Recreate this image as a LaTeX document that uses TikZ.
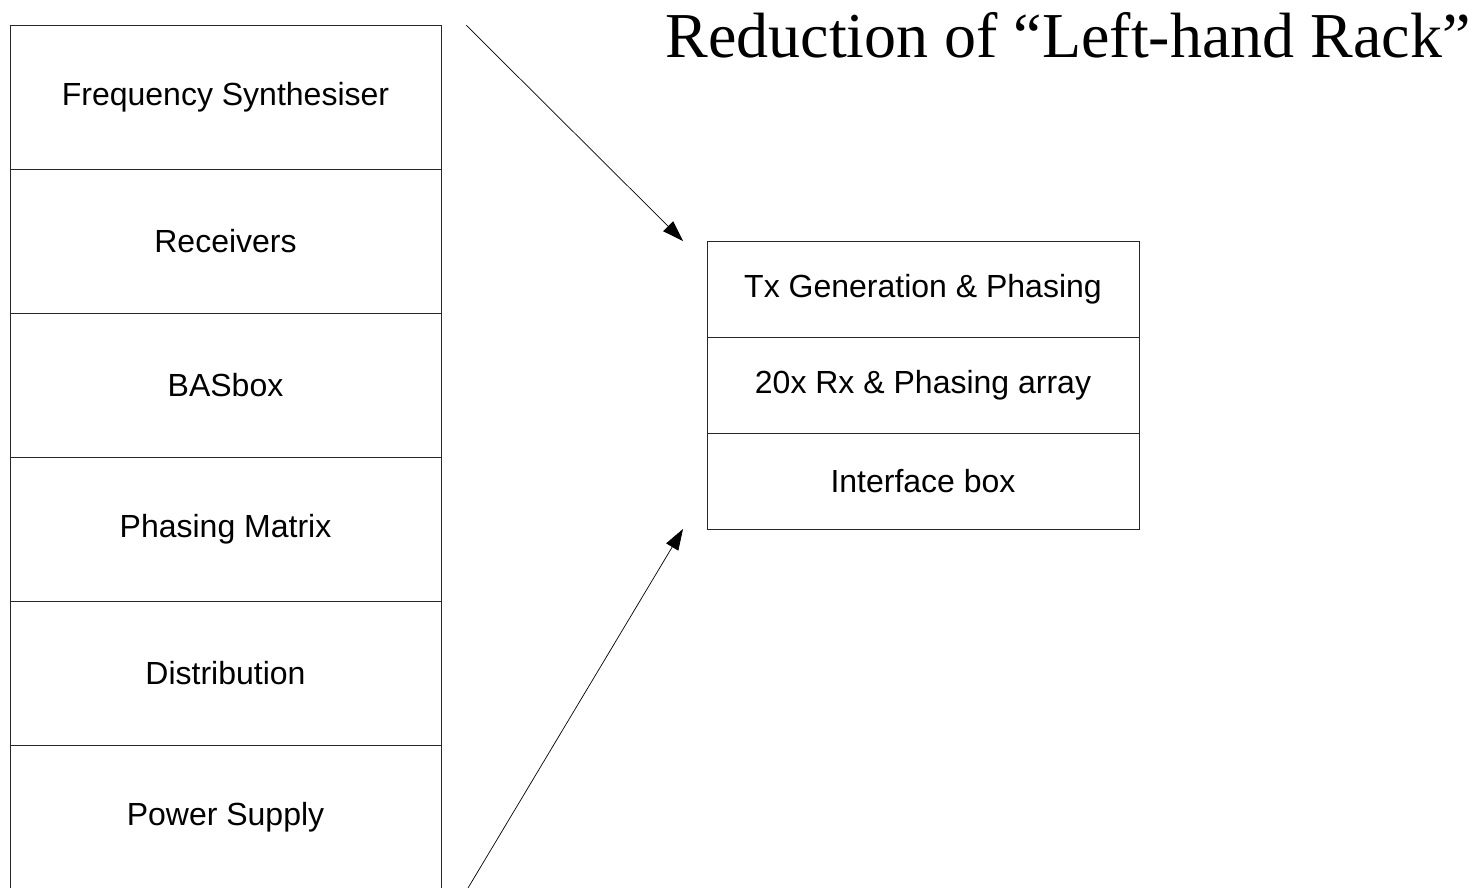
\documentclass[tikz,border=0pt]{standalone}
\usepackage{fontspec}
\setmainfont{Liberation Serif}
\setsansfont{Liberation Sans}
\usetikzlibrary{positioning, arrows.meta}

\tikzset{
	rackrow/.style={draw=black!85, line width=0.8pt, minimum width=431pt, minimum height=144pt,
		outer sep=0pt, inner sep=0pt, font=\sffamily\fontsize{32}{38}\selectfont},
	unitrow/.style={draw=black!85, line width=0.8pt, minimum width=432pt, minimum height=96pt,
		outer sep=0pt, inner sep=0pt, font=\sffamily\fontsize{32}{38}\selectfont},
	feed/.style={line width=0.7pt, -{Triangle[length=21pt,width=14pt]}}
}

\begin{document}
\begin{tikzpicture}[x=1pt, y=-1pt]
	\useasboundingbox (0,0) rectangle (1478,887);
	\begin{scope}
	\clip (0,0) rectangle (1478,887);
	\draw node (fs)[rackrow, anchor=north west] at (10,25) {Frequency Synthesiser};
	\draw node (rx)[rackrow, below=0pt of fs] {Receivers};
	\draw node (bas)[rackrow, below=0pt of rx] {BASbox};
	\draw node (pm)[rackrow, below=0pt of bas] {Phasing Matrix};
	\draw node (dist)[rackrow, below=0pt of pm] {Distribution};
	\draw node (ps)[rackrow, below=0pt of dist] {Power Supply};
	\end{scope}
	\draw node (tx)[unitrow, anchor=north west] at (707,241) {Tx Generation \& Phasing};
	\draw node (arr)[unitrow, below=0pt of tx] {20x Rx \& Phasing array};
	\draw node (ifb)[unitrow, below=0pt of arr] {Interface box};
	\draw node (title)[anchor=base, inner sep=0pt, font=\fontsize{64}{76}\selectfont] at (1068,57) {Reduction of “Left-hand Rack”};
	\coordinate (top) at (466,25);
	\coordinate (topend) at (683,241);
	\coordinate (bot) at (468,888);
	\coordinate (botend) at (683,529);
	\draw[feed] (top) -- (topend);
	\draw[feed] (bot) -- (botend);
\end{tikzpicture}
\end{document}
